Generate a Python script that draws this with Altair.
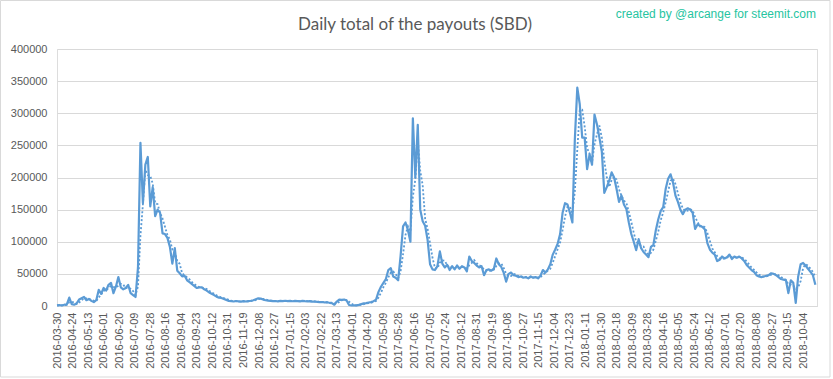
import altair as alt
import pandas as pd

# category position of each sampled day (every 3rd day of the Excel category axis)
day_index = list(range(0, 928, 3))

payout = [
    1000, 1500, 800, 2000, 2500, 13000, 3000, 2000, 4000, 10000,
    12000, 14000, 9000, 11000, 8000, 6000, 9000, 25000, 19000, 28000,
    24000, 33000, 36000, 20000, 30000, 45000, 29000, 26000, 28000, 33000,
    20000, 17000, 14000, 60000, 254000, 160000, 220000, 232000, 155000, 185000,
    140000, 150000, 145000, 113000, 112000, 106000, 92000, 66000, 90000, 55000,
    51000, 46000, 47000, 40000, 37000, 34000, 31000, 28000, 29000, 29000,
    26000, 24000, 21000, 19000, 17000, 14500, 13000, 12500, 11000, 9500,
    8000, 7500, 7000, 7800, 7200, 6800, 7500, 7000, 7600, 8200,
    9000, 10500, 12000, 11500, 10000, 9000, 8500, 8000, 7500, 7800,
    7300, 8000, 7600, 8200, 7500, 8000, 7400, 8100, 7700, 7300,
    8000, 7500, 7200, 7600, 6800, 7000, 6500, 6000, 6200, 5500,
    5800, 5000, 4500, 2000, 7000, 10000, 9500, 10000, 8500, 1500,
    800, 1200, 1000, 1800, 3000, 4000, 4500, 5500, 6000, 7500,
    10000, 22000, 30000, 36000, 42000, 56000, 59000, 46000, 44000, 40000,
    78000, 124000, 130000, 118000, 100000, 292000, 200000, 282000, 150000, 132000,
    125000, 103000, 65000, 57000, 56000, 62000, 85000, 66000, 60000, 64000,
    56000, 62000, 57000, 63000, 58000, 62000, 60000, 54000, 77000, 70000,
    67000, 63000, 60000, 62000, 48000, 56000, 57000, 55000, 58000, 74000,
    65000, 61000, 52000, 38000, 50000, 52000, 48000, 47000, 45000, 46000,
    44000, 45000, 43000, 46000, 44000, 45000, 43000, 47000, 56000, 52000,
    57000, 65000, 80000, 88000, 97000, 112000, 145000, 160000, 158000, 145000,
    130000, 260000, 340000, 314000, 262000, 262000, 213000, 236000, 220000, 298000,
    283000, 262000, 240000, 176000, 185000, 195000, 208000, 200000, 182000, 162000,
    172000, 158000, 151000, 130000, 112000, 100000, 87000, 104000, 90000, 84000,
    80000, 76000, 92000, 95000, 118000, 135000, 148000, 154000, 182000, 198000,
    205000, 192000, 172000, 162000, 150000, 143000, 150000, 152000, 150000, 145000,
    120000, 127000, 125000, 123000, 119000, 98000, 88000, 83000, 80000, 70000,
    72000, 77000, 74000, 76000, 80000, 73000, 77000, 75000, 77000, 74000,
    70000, 64000, 60000, 56000, 53000, 48000, 46000, 45000, 46000, 47000,
    48000, 51000, 50000, 48000, 45000, 42000, 41000, 40000, 20000, 40000,
    36000, 5000, 46000, 65000, 67000, 63000, 58000, 53000, 48000, 33000,
]

tick_labels = [
    "2016-03-30", "2016-04-24", "2016-05-13", "2016-06-01", "2016-06-20",
    "2016-07-09", "2016-07-28", "2016-08-16", "2016-09-04", "2016-09-23",
    "2016-10-12", "2016-10-31", "2016-11-19", "2016-12-08", "2016-12-27",
    "2017-01-15", "2017-02-03", "2017-02-22", "2017-03-13", "2017-04-01",
    "2017-04-20", "2017-05-09", "2017-05-28", "2017-06-16", "2017-07-05",
    "2017-07-24", "2017-08-12", "2017-08-31", "2017-09-19", "2017-10-08",
    "2017-10-27", "2017-11-15", "2017-12-04", "2017-12-23", "2018-01-11",
    "2018-01-30", "2018-02-18", "2018-03-09", "2018-03-28", "2018-04-16",
    "2018-05-05", "2018-05-24", "2018-06-12", "2018-07-01", "2018-07-20",
    "2018-08-08", "2018-08-27", "2018-09-15", "2018-10-04",
]
tick_positions = [19 * i for i in range(len(tick_labels))]
y_ticks = [0, 50000, 100000, 150000, 200000, 250000, 300000, 350000, 400000]

title_text = ["Daily total of the payouts (SBD)"]
credit_text = ["created by @arcange for steemit.com"]

df = pd.DataFrame({"day": day_index, "sbd": payout})

label_expr = "[" + ",".join("'%s'" % t for t in tick_labels) + "][round(datum.value / 19)]"

LABEL = "#595959"
GRID = "#D9D9D9"
BLUE = "#5B9BD5"
FONT = "Liberation Sans"

x_axis = alt.Axis(
    values=tick_positions, labelExpr=label_expr, labelAngle=-90,
    ticks=False, grid=False, domainColor=GRID, domainWidth=1,
    labelColor=LABEL, labelFontSize=11, labelFont=FONT, labelPadding=6,
    labelOverlap=False, labelBound=False, labelFlush=False, title=None,
)
x_scale = alt.Scale(domain=[0, 929], nice=False, zero=False)
y_axis = alt.Axis(
    values=y_ticks, format="d", ticks=False, domain=False,
    gridColor=GRID, gridWidth=1, labelColor=LABEL, labelFontSize=11,
    labelFont=FONT, labelPadding=10, title=None,
)
y_scale = alt.Scale(domain=[0, 400000], nice=False)

base = alt.Chart(df)

solid = base.mark_line(color=BLUE, strokeWidth=2.2, strokeJoin="round").encode(
    x=alt.X("day:Q", scale=x_scale, axis=x_axis),
    y=alt.Y("sbd:Q", scale=y_scale, axis=y_axis),
)

trend = base.transform_window(
    ma="mean(sbd)", frame=[-2, 0], sort=[alt.SortField("day")]
).mark_line(color=BLUE, strokeWidth=1.8, strokeDash=[2, 2]).encode(
    x=alt.X("day:Q", scale=x_scale, axis=x_axis),
    y=alt.Y("ma:Q", scale=y_scale, axis=y_axis),
)

title = alt.Chart(pd.DataFrame({"t": title_text})).mark_text(
    align="center", baseline="alphabetic", font="Lato", fontSize=17, color=LABEL
).encode(x=alt.value(358), y=alt.value(-19), text="t:N")

credit = alt.Chart(pd.DataFrame({"t": credit_text})).mark_text(
    align="right", baseline="middle", font=FONT, fontSize=12, color="#26C4A0"
).encode(x=alt.value(759), y=alt.value(-35), text="t:N")

frame = alt.Chart(pd.DataFrame({"t": [0]})).mark_rect(
    fill=None, stroke=GRID, strokeWidth=1
).encode(x=alt.value(-56.5), x2=alt.value(773), y=alt.value(-48.5), y2=alt.value(328))

chart = alt.layer(frame, solid, trend, title, credit).properties(
    width=760,
    height=257,
    autosize=alt.AutoSizeParams(type="none"),
    padding={"left": 57, "top": 49, "right": 16, "bottom": 73},
).configure_view(stroke=None).configure_axisX(labelOverlap=False).configure(background="white")

chart.save("out.html", embed_options={"renderer": "svg", "actions": False})
